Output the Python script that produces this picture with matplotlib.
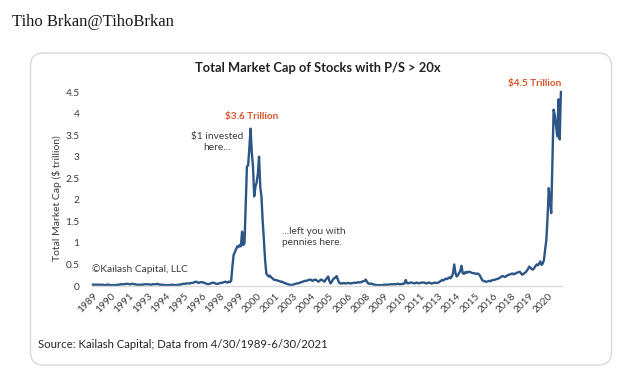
import matplotlib
matplotlib.use("Agg")
import matplotlib.pyplot as plt
from matplotlib.patches import FancyBboxPatch

# ---------------- data (monthly, Apr 1989 - Jun 2021, $ trillion) ----------------
start_year = 1989
start_month = 4
v1989 = [0.03, 0.03, 0.03, 0.03, 0.03, 0.03, 0.03, 0.03, 0.03]
v1990 = [0.02, 0.02, 0.03, 0.03, 0.03, 0.02, 0.02, 0.02, 0.02, 0.02, 0.02, 0.03]
v1991 = [0.03, 0.03, 0.04, 0.04, 0.04, 0.04, 0.05, 0.05, 0.05, 0.04, 0.04, 0.05]
v1992 = [0.05, 0.04, 0.04, 0.03, 0.03, 0.03, 0.03, 0.03, 0.03, 0.04, 0.04, 0.04]
v1993 = [0.04, 0.04, 0.03, 0.03, 0.04, 0.04, 0.04, 0.04, 0.05, 0.04, 0.03, 0.03]
v1994 = [0.03, 0.03, 0.02, 0.02, 0.02, 0.02, 0.02, 0.02, 0.03, 0.03, 0.02, 0.02]
v1995 = [0.02, 0.03, 0.03, 0.03, 0.04, 0.05, 0.05, 0.05, 0.06, 0.06, 0.06, 0.06]
v1996 = [0.07, 0.07, 0.08, 0.09, 0.10, 0.09, 0.07, 0.08, 0.09, 0.09, 0.08, 0.07]
v1997 = [0.06, 0.05, 0.04, 0.05, 0.06, 0.07, 0.08, 0.07, 0.06, 0.05, 0.05, 0.06]
v1998 = [0.07, 0.07, 0.08, 0.09, 0.10, 0.09, 0.08, 0.10, 0.09, 0.12, 0.45, 0.72]
v1999 = [0.78, 0.85, 0.92, 0.90, 0.95, 0.92, 1.26, 0.95, 1.00, 1.90, 2.77, 2.80]
v2000 = [3.20, 3.65, 3.10, 2.77, 2.08, 2.30, 2.40, 2.60, 3.00, 2.30, 2.07, 1.50]
v2001 = [1.07, 0.60, 0.29, 0.25, 0.22, 0.24, 0.20, 0.18, 0.15, 0.14, 0.14, 0.13]
v2002 = [0.12, 0.11, 0.10, 0.10, 0.08, 0.07, 0.06, 0.05, 0.04, 0.03, 0.03, 0.02]
v2003 = [0.03, 0.04, 0.05, 0.06, 0.06, 0.07, 0.08, 0.09, 0.10, 0.11, 0.12, 0.12]
v2004 = [0.13, 0.14, 0.15, 0.14, 0.12, 0.13, 0.15, 0.14, 0.12, 0.10, 0.12, 0.15]
v2005 = [0.14, 0.12, 0.10, 0.15, 0.18, 0.22, 0.12, 0.06, 0.10, 0.15, 0.18, 0.20]
v2006 = [0.23, 0.15, 0.08, 0.06, 0.06, 0.06, 0.07, 0.06, 0.06, 0.07, 0.07, 0.06]
v2007 = [0.06, 0.07, 0.07, 0.08, 0.07, 0.08, 0.09, 0.08, 0.09, 0.10, 0.11, 0.12]
v2008 = [0.15, 0.10, 0.06, 0.05, 0.06, 0.05, 0.04, 0.03, 0.03, 0.02, 0.02, 0.02]
v2009 = [0.02, 0.02, 0.02, 0.03, 0.03, 0.03, 0.03, 0.03, 0.04, 0.04, 0.04, 0.04]
v2010 = [0.04, 0.04, 0.05, 0.05, 0.04, 0.04, 0.05, 0.05, 0.06, 0.14, 0.07, 0.06]
v2011 = [0.07, 0.08, 0.08, 0.07, 0.06, 0.07, 0.08, 0.07, 0.06, 0.07, 0.08, 0.08]
v2012 = [0.08, 0.07, 0.06, 0.07, 0.08, 0.07, 0.06, 0.06, 0.07, 0.08, 0.07, 0.07]
v2013 = [0.08, 0.10, 0.12, 0.14, 0.13, 0.15, 0.17, 0.16, 0.18, 0.20, 0.18, 0.22]
v2014 = [0.30, 0.50, 0.30, 0.22, 0.25, 0.30, 0.35, 0.47, 0.30, 0.28, 0.32, 0.30]
v2015 = [0.33, 0.32, 0.33, 0.31, 0.30, 0.30, 0.29, 0.28, 0.29, 0.28, 0.25, 0.20]
v2016 = [0.14, 0.12, 0.11, 0.10, 0.10, 0.11, 0.12, 0.11, 0.13, 0.14, 0.14, 0.15]
v2017 = [0.16, 0.17, 0.18, 0.20, 0.22, 0.23, 0.22, 0.21, 0.23, 0.25, 0.26, 0.27]
v2018 = [0.28, 0.29, 0.27, 0.28, 0.30, 0.31, 0.32, 0.33, 0.30, 0.26, 0.28, 0.30]
v2019 = [0.32, 0.36, 0.40, 0.45, 0.42, 0.39, 0.38, 0.42, 0.46, 0.50, 0.48, 0.52]
v2020 = [0.57, 0.49, 0.52, 0.60, 0.85, 1.07, 1.60, 2.27, 1.96, 1.69, 2.90, 4.09]
v2021 = [3.95, 3.70, 3.47, 4.33, 3.40, 4.50]

values = (v1989 + v1990 + v1991 + v1992 + v1993 + v1994 + v1995 + v1996 + v1997
          + v1998 + v1999 + v2000 + v2001 + v2002 + v2003 + v2004 + v2005 + v2006
          + v2007 + v2008 + v2009 + v2010 + v2011 + v2012 + v2013 + v2014 + v2015
          + v2016 + v2017 + v2018 + v2019 + v2020 + v2021)

yticks = [0, 0.5, 1, 1.5, 2, 2.5, 3, 3.5, 4, 4.5]
ytick_labels = ["0", "0.5", "1", "1.5", "2", "2.5", "3", "3.5", "4", "4.5"]
label_interval = 15  # Excel category-axis label interval (months)

title = "Total Market Cap of Stocks with P/S > 20x"
ylabel = "Total Market Cap ($ trillion)"
source = "Source: Kailash Capital; Data from 4/30/1989-6/30/2021"
header = "Tiho Brkan@TihoBrkan"

# ---------------- derived ----------------
n = len(values)
idx = list(range(n))
years = [start_year + (start_month - 1 + i) // 12 for i in idx]
tick_pos = idx[::label_interval]
tick_lab = [str(years[i]) for i in tick_pos]

W, H = 629, 375
fig = plt.figure(figsize=(W / 100, H / 100), dpi=100)
fig.patch.set_facecolor("white")

# background overlay axes in pixel coordinates
bg = fig.add_axes([0, 0, 1, 1], zorder=0)
bg.set_xlim(0, W)
bg.set_ylim(H, 0)
bg.axis("off")

card = FancyBboxPatch((30.5, 53), 581, 312,
                      boxstyle="round,pad=0,rounding_size=13",
                      facecolor="white", edgecolor="#d9d9d9", linewidth=1.0)
bg.add_patch(card)

FONT = "Lato"
TXT = "#3a3a3a"
ORANGE = "#d9552b"
BLUE = "#2b5686"

bg.text(12.5, 26, header, family="Liberation Serif", fontsize=12,
        color="#1a1a1a", ha="left", va="baseline")
bg.text(318, 68, title, family=FONT, fontweight="bold", fontsize=9.3,
        color="#222222", ha="center", va="center")
bg.text(38, 345, source, family=FONT, fontsize=8.2, color="#262626",
        ha="left", va="center")
bg.text(57, 198, ylabel, family=FONT, fontsize=7.5, color=TXT,
        rotation=90, ha="center", va="center")

# main axes
ax = fig.add_axes([92 / W, 1 - 286 / H, 470 / W, 194 / H], zorder=2)
ax.patch.set_alpha(0)
ax.plot(idx, values, color=BLUE, linewidth=1.7, solid_joinstyle="round", clip_on=False)
ax.set_xlim(-0.8, n - 1 + 0.9)
ax.set_ylim(0, 4.5)

ax.set_yticks(yticks)
ax.set_yticklabels(ytick_labels, family=FONT, fontsize=7.3, color=TXT)
ax.set_xticks(tick_pos)
ax.set_xticklabels(tick_lab, family=FONT, fontsize=7.3, color=TXT,
                   rotation=45, ha="right", va="top", rotation_mode="anchor")
ax.tick_params(axis="y", length=0, pad=9)
ax.tick_params(axis="x", length=0, pad=4)

for s in ["left", "right", "top"]:
    ax.spines[s].set_visible(False)
ax.spines["bottom"].set_color("#d9d9d9")
ax.spines["bottom"].set_linewidth(1.0)

# annotations
peak1 = max(values[:200])
i1 = values.index(peak1)
ax.annotate("$3.6 Trillion", xy=(i1, peak1), xytext=(1, 9), textcoords="offset points",
            family=FONT, fontweight="bold", fontsize=7.2, color=ORANGE,
            ha="center", va="center")
ax.annotate("$4.5 Trillion", xy=(n - 1, values[-1]), xytext=(-19, 6), textcoords="offset points",
            family=FONT, fontweight="bold", fontsize=7.2, color=ORANGE,
            ha="center", va="center", annotation_clip=False)

bg.text(217, 142, "$1 invested\nhere...", family=FONT, fontsize=7.3, color=TXT,
        ha="center", va="center", linespacing=1.3)
bg.text(282, 237, "...left you with\npennies here.", family=FONT, fontsize=7.3, color=TXT,
        ha="left", va="center", linespacing=1.3)
bg.text(92, 269, "\u00a9Kailash Capital, LLC", family=FONT, fontsize=7.3, color=TXT,
        ha="left", va="center")

fig.savefig("out.png", dpi=100, facecolor="white")
